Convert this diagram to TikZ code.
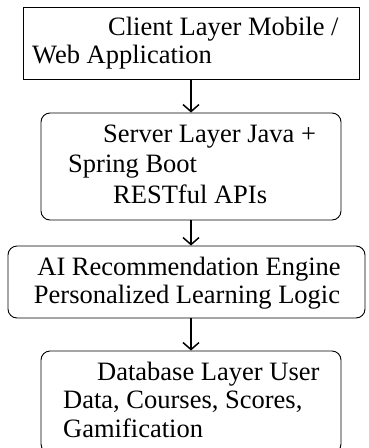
\documentclass[tikz,border=0pt]{standalone}
\usepackage{fontspec}
\setmainfont{Liberation Serif}
\usetikzlibrary{arrows.meta}
\begin{document}
\begin{tikzpicture}[x=1pt,y=-1pt,
  box/.style={draw=black, line width=0.9pt, inner sep=0pt},
  rbox/.style={box, rounded corners=9pt},
  txt/.style={anchor=base west, inner sep=0pt, font=\fontsize{26.5}{29}\selectfont},
  ctxt/.style={anchor=base, inner sep=0pt, font=\fontsize{26.5}{29}\selectfont},
  flow/.style={line width=1.5pt, -{Straight Barb[length=7pt,width=16pt,line width=1.5pt]}}]
\useasboundingbox (0,0) rectangle (368,448);
% boxes
\node[box, minimum width=336pt, minimum height=72pt] (client) at (191,43) {};
\node[rbox, minimum width=300pt, minimum height=107pt] (server) at (191,166.5) {};
\node[rbox, minimum width=357pt, minimum height=72pt] (ai) at (186.5,282) {};
\node[rbox, minimum width=300pt, minimum height=102pt] (db) at (191,402) {};
% texts
\node[txt] (c1) at (108,35) {Client Layer Mobile /};
\node[txt] (c2) at (32,63) {Web Application};
\node[txt] (s1) at (103,142) {Server Layer Java +};
\node[txt] (s2) at (68,172) {Spring Boot};
\node[txt] (s3) at (113,203) {RESTful APIs};
\node[ctxt] (a1) at (189,275) {AI Recommendation Engine};
\node[ctxt] (a2) at (187,303) {Personalized Learning Logic};
\node[txt] (d1) at (97,380) {Database Layer User};
\node[txt] (d2) at (63,408) {Data, Courses, Scores,};
\node[txt] (d3) at (63,437) {Gamification};
% connectors
\draw[flow] (client.south) -- (server.north);
\draw[flow] (server.south) -- (server.south |- ai.north);
\draw[flow] (server.south |- ai.south) -- (db.north);
\end{tikzpicture}
\end{document}
